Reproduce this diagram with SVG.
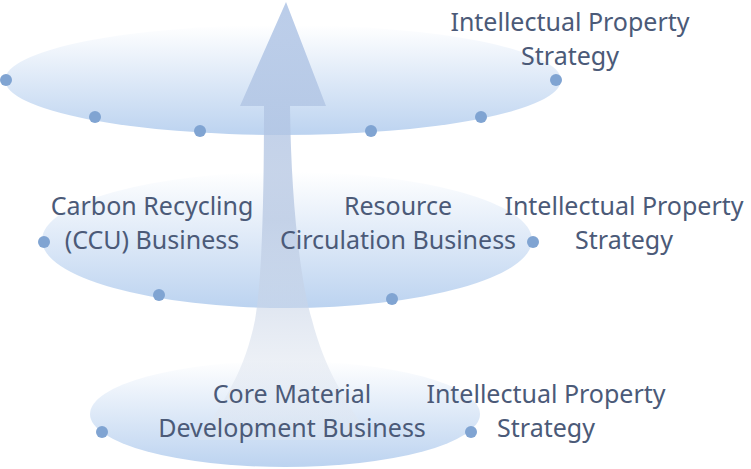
<svg xmlns="http://www.w3.org/2000/svg" width="751" height="469" viewBox="0 0 751 469">
<defs>
<linearGradient id="eg" x1="0" y1="0" x2="0" y2="1"><stop offset="0" stop-color="#ffffff"/><stop offset="1" stop-color="#bcd3f0"/></linearGradient>
<linearGradient id="ag" x1="0" y1="1" x2="0" y2="0"><stop offset="0" stop-color="#e6eaf0" stop-opacity="0.3"/><stop offset="0.5" stop-color="#b8c8e2" stop-opacity="0.75"/><stop offset="1" stop-color="#a9c0e4" stop-opacity="0.8"/></linearGradient>
<style>
.e{fill:url(#eg)}
.d{fill:#80a4d2}
text{font-family:"Noto Sans","Open Sans",sans-serif;font-size:25px;fill:#4b5a78;text-anchor:middle}
</style>
</defs>
<g id="layer-top"><ellipse class="e" cx="283" cy="80" rx="278" ry="55"/></g>
<g id="layer-mid"><ellipse class="e" cx="287" cy="240" rx="245" ry="68"/></g>
<g id="layer-bot"><ellipse class="e" cx="285" cy="414" rx="195" ry="53"/></g>
<g id="arrow"><path d="M286,2 L326,106 L290,106 C291,200 300,280 312,320 C325,370 345,400 372,440 L198,440 C225,400 245,370 255,320 C262,280 264,200 264,106 L240,106 Z" fill="url(#ag)"/></g>
<g id="dots">
<circle class="d" cx="6" cy="80" r="6"/><circle class="d" cx="95" cy="117" r="6"/><circle class="d" cx="200" cy="131" r="6"/><circle class="d" cx="371" cy="131" r="6"/><circle class="d" cx="481" cy="117" r="6"/><circle class="d" cx="556" cy="80" r="6"/>
<circle class="d" cx="44" cy="242" r="6"/><circle class="d" cx="159" cy="295" r="6"/><circle class="d" cx="392" cy="299" r="6"/><circle class="d" cx="533" cy="242" r="6"/>
<circle class="d" cx="102" cy="432" r="6"/><circle class="d" cx="471" cy="432" r="6"/>
</g>
<g id="labels">
<text x="570" y="31">Intellectual Property</text><text x="570" y="65">Strategy</text>
<text x="152" y="215">Carbon Recycling</text><text x="152" y="249">(CCU) Business</text>
<text x="398" y="215">Resource</text><text x="398" y="249">Circulation Business</text>
<text x="624" y="215">Intellectual Property</text><text x="624" y="249">Strategy</text>
<text x="292" y="403">Core Material</text><text x="292" y="437">Development Business</text>
<text x="546" y="403">Intellectual Property</text><text x="546" y="437">Strategy</text>
</g>
</svg>
